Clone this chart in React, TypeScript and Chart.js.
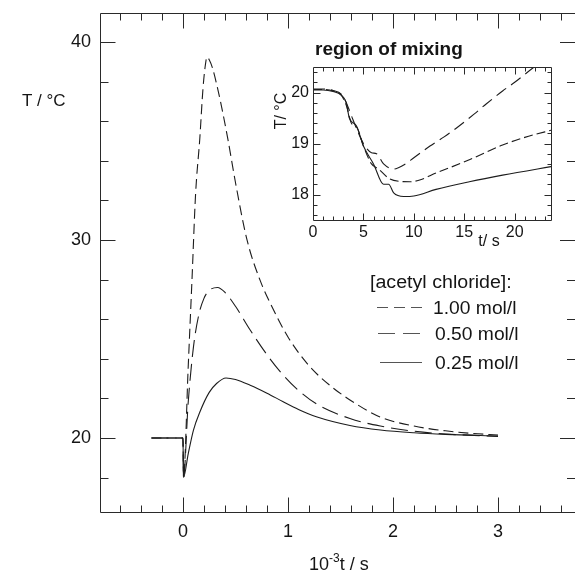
import React, { useEffect, useRef } from "react";
import { Chart, registerables } from "chart.js";
Chart.register(...registerables);

// ---- main chart data (x: 10^-3 t / s, y: T / °C)
const seriesLabels = ["1.00 mol/l", "0.50 mol/l", "0.25 mol/l"];
const legendTitle = "[acetyl chloride]:";

const c100X = [-0.3, 0, 0.005, 0.05, 0.086, 0.12, 0.16, 0.19, 0.21, 0.229, 0.25, 0.28, 0.333, 0.38, 0.429, 0.5, 0.61, 0.733, 0.85, 1.0, 1.2, 1.4, 1.59, 1.876, 2.2, 2.5, 2.75, 3.0];
const c100Y = [20, 20, 18, 23.6, 28.0, 32.3, 35.1, 37.6, 38.7, 39.24, 39.1, 38.7, 37.58, 36.4, 35.05, 32.9, 30.0, 27.98, 26.6, 25.1, 23.65, 22.65, 21.92, 21.06, 20.6, 20.36, 20.23, 20.15];

const c050X = [-0.3, 0, 0.005, 0.05, 0.1, 0.15, 0.2, 0.25, 0.33, 0.4, 0.5, 0.64, 0.8, 0.95, 1.1, 1.27, 1.59, 1.88, 2.2, 2.5, 3.0];
const c050Y = [20, 20, 18, 21.8, 24.6, 26.2, 27.05, 27.45, 27.6, 27.35, 26.65, 25.45, 24.2, 23.2, 22.4, 21.72, 20.98, 20.6, 20.34, 20.2, 20.08];

const c025X = [-0.3, 0, 0.005, 0.05, 0.1, 0.16, 0.25, 0.32, 0.41, 0.5, 0.64, 0.8, 0.95, 1.1, 1.27, 1.59, 1.88, 2.2, 2.5, 3.0];
const c025Y = [20, 20, 18, 19.2, 20.4, 21.3, 22.3, 22.75, 23.03, 22.95, 22.66, 22.26, 21.84, 21.44, 21.07, 20.63, 20.4, 20.26, 20.18, 20.1];

const mainXTickLabels = [0, 1, 2, 3];
const mainYTickLabels = [20, 30, 40];

// ---- inset data (x: t / s, y: T / °C)
const insetTitle = "region of mixing";
const i100T = [0, 1, 2, 2.8, 3.3, 3.8, 4.3, 5, 5.8, 6.3, 7, 8, 9, 10, 11.6, 13, 14.2, 16, 17.2, 18.8, 20, 21.8, 24];
const i100V = [20.07, 20.07, 20.04, 19.97, 19.8, 19.55, 19.3, 19.0, 18.82, 18.8, 18.6, 18.5, 18.58, 18.72, 18.95, 19.13, 19.3, 19.58, 19.78, 20.03, 20.2, 20.48, 20.8];

const i050T = [0, 1, 2, 2.8, 3.3, 3.8, 4.4, 5, 5.8, 6.5, 7.5, 8.5, 9.6, 10.5, 12.2, 15.5, 18.8, 21, 24];
const i050V = [20.06, 20.06, 20.03, 19.95, 19.75, 19.4, 19.3, 18.95, 18.6, 18.5, 18.32, 18.26, 18.25, 18.28, 18.42, 18.68, 18.97, 19.12, 19.28];

const i025T = [0, 1, 2, 2.8, 3.3, 3.6, 4.3, 5, 6, 7, 7.5, 8, 9, 10, 12.2, 15.5, 18.8, 24];
const i025V = [20.05, 20.05, 20.02, 19.95, 19.8, 19.5, 19.35, 18.95, 18.6, 18.2, 18.2, 18.03, 17.96, 17.97, 18.1, 18.25, 18.38, 18.56];

const insetXTickLabels = [0, 5, 10, 15, 20];
const insetYTickLabels = [18, 19, 20];

const FONT = '"Liberation Sans", Arial, Helvetica, sans-serif';
const INK = "#151515";
const LINE = "#1c1c1c";

const zip = (xs: number[], ys: number[]) => xs.map((x, i) => ({ x, y: ys[i] }));

const mainDashes = [[10, 5], [17, 7], []];
const insetDashes = [[12, 6], [9, 4], []];

function px(v: number) {
  return Math.round(v) + 0.5;
}

function stretchText(ctx: CanvasRenderingContext2D, text: string, x: number, y: number, sx: number) {
  ctx.save();
  ctx.translate(x, y);
  ctx.scale(sx, 1);
  ctx.fillText(text, 0, 0);
  ctx.restore();
}

const mainPlugin = {
  id: "mainDecor",
  afterDraw(chart: any) {
    const { ctx, chartArea: a } = chart;
    const xs = chart.scales.x;
    const ys = chart.scales.y;
    ctx.save();
    ctx.strokeStyle = "#2a2a2a";
    ctx.lineWidth = 1;
    ctx.beginPath();
    ctx.moveTo(px(a.left), px(a.top));
    ctx.lineTo(px(a.left), px(a.bottom));
    ctx.lineTo(a.right, px(a.bottom));
    ctx.moveTo(px(a.left), px(a.top));
    ctx.lineTo(a.right, px(a.top));
    for (let i = -4; i <= 18; i++) {
      const v = i * 0.2;
      const p = xs.getPixelForValue(v);
      if (p < a.left + 1 || p > a.right - 1) continue;
      const len = i % 5 === 0 ? 15 : 7;
      ctx.moveTo(px(p), px(a.bottom));
      ctx.lineTo(px(p), px(a.bottom) - len);
      ctx.moveTo(px(p), px(a.top));
      ctx.lineTo(px(p), px(a.top) + len);
    }
    for (let v = 16; v <= 41; v += 2) {
      const p = ys.getPixelForValue(v);
      if (p < a.top + 1 || p > a.bottom - 1) continue;
      const len = v % 10 === 0 ? 15 : 8;
      ctx.moveTo(px(a.left), px(p));
      ctx.lineTo(px(a.left) + len, px(p));
      ctx.moveTo(a.right, px(p));
      ctx.lineTo(a.right - len, px(p));
    }
    ctx.stroke();

    ctx.fillStyle = INK;
    ctx.font = `18px ${FONT}`;
    ctx.textAlign = "center";
    ctx.textBaseline = "middle";
    mainXTickLabels.forEach((v) => ctx.fillText(String(v), xs.getPixelForValue(v), 532));
    ctx.textAlign = "right";
    mainYTickLabels.forEach((v) => ctx.fillText(String(v), 91, ys.getPixelForValue(v)));

    ctx.textAlign = "left";
    ctx.textBaseline = "alphabetic";
    ctx.font = `17px ${FONT}`;
    ctx.fillText("T / °C", 22, 106);

    ctx.font = `18px ${FONT}`;
    let x0 = 309;
    ctx.fillText("10", x0, 570);
    x0 += ctx.measureText("10").width;
    ctx.font = `12px ${FONT}`;
    ctx.fillText("-3", x0, 562);
    x0 += ctx.measureText("-3").width;
    ctx.font = `18px ${FONT}`;
    ctx.fillText("t / s", x0, 570);

    // legend
    ctx.font = `18px ${FONT}`;
    ctx.textBaseline = "middle";
    stretchText(ctx, legendTitle, 370, 283, 1.09);
    const rows = [
      { y: 307, ty: 309, x1: 377, x2: 423, tx: 433 },
      { y: 333, ty: 335, x1: 378, x2: 421, tx: 435 },
      { y: 362, ty: 364, x1: 380, x2: 422, tx: 435 },
    ];
    rows.forEach((r, i) => {
      ctx.save();
      ctx.strokeStyle = "#555";
      ctx.setLineDash(i === 0 ? [11, 6] : i === 1 ? [17, 8] : []);
      ctx.beginPath();
      ctx.moveTo(r.x1, px(r.y));
      ctx.lineTo(r.x2, px(r.y));
      ctx.stroke();
      ctx.restore();
      stretchText(ctx, seriesLabels[i], r.tx, r.ty, 1.07);
    });
    ctx.restore();
  },
};

const insetPlugin = {
  id: "insetDecor",
  afterDraw(chart: any) {
    const { ctx, chartArea: a } = chart;
    const xs = chart.scales.x;
    const ys = chart.scales.y;
    ctx.save();
    ctx.strokeStyle = "#2a2a2a";
    ctx.lineWidth = 1;
    ctx.beginPath();
    ctx.rect(px(a.left), px(a.top), Math.round(a.right - a.left), Math.round(a.bottom - a.top));
    for (let v = 1; v <= 23; v++) {
      const p = xs.getPixelForValue(v);
      if (p > a.right - 1) continue;
      const len = v % 5 === 0 ? 7 : 4;
      ctx.moveTo(px(p), px(a.bottom));
      ctx.lineTo(px(p), px(a.bottom) - len);
      ctx.moveTo(px(p), px(a.top));
      ctx.lineTo(px(p), px(a.top) + len);
    }
    for (let i = 88; i <= 102; i++) {
      const v = i * 0.2;
      const p = ys.getPixelForValue(v);
      if (p < a.top + 1 || p > a.bottom - 1) continue;
      const len = i % 5 === 0 ? 7 : 4;
      ctx.moveTo(px(a.left), px(p));
      ctx.lineTo(px(a.left) + len, px(p));
      ctx.moveTo(px(a.right), px(p));
      ctx.lineTo(px(a.right) - len, px(p));
    }
    ctx.stroke();

    ctx.fillStyle = INK;
    ctx.font = `bold 19px ${FONT}`;
    ctx.textAlign = "left";
    ctx.textBaseline = "alphabetic";
    ctx.fillText(insetTitle, 55, 30);

    ctx.font = `16px ${FONT}`;
    ctx.textAlign = "center";
    ctx.textBaseline = "middle";
    insetXTickLabels.forEach((v) => ctx.fillText(String(v), xs.getPixelForValue(v), 208));
    ctx.textAlign = "right";
    insetYTickLabels.forEach((v) => ctx.fillText(String(v), 49, ys.getPixelForValue(v)));

    ctx.textAlign = "center";
    ctx.fillText("t/ s", 229, 217);
    ctx.save();
    ctx.translate(22, 86);
    ctx.rotate(-Math.PI / 2);
    ctx.fillText("T/ °C", 0, 0);
    ctx.restore();
    ctx.restore();
  },
};

function lineDs(label: string, data: any[], dash: number[]) {
  return {
    label,
    data,
    borderColor: LINE,
    borderWidth: 1.1,
    borderDash: dash,
    pointRadius: 0,
    fill: false,
    cubicInterpolationMode: "monotone" as const,
  };
}

export default function App() {
  const mainRef = useRef<HTMLCanvasElement>(null);
  const insetRef = useRef<HTMLCanvasElement>(null);

  useEffect(() => {
    document.body.style.margin = "0";
    const main = new Chart(mainRef.current!, {
      type: "line",
      data: {
        datasets: [
          lineDs(seriesLabels[0], zip(c100X, c100Y), mainDashes[0]),
          lineDs(seriesLabels[1], zip(c050X, c050Y), mainDashes[1]),
          lineDs(seriesLabels[2], zip(c025X, c025Y), mainDashes[2]),
        ],
      },
      options: {
        animation: false,
        responsive: false,
        devicePixelRatio: 1,
        layout: { padding: { left: 100, top: 13, right: 0, bottom: 64 } },
        scales: {
          x: { type: "linear", min: -0.79, max: 3.733, display: false },
          y: { type: "linear", min: 16.26, max: 41.46, display: false },
        },
        plugins: { legend: { display: false }, tooltip: { enabled: false } },
        events: [],
      },
      plugins: [mainPlugin],
    });
    const inset = new Chart(insetRef.current!, {
      type: "line",
      data: {
        datasets: [
          lineDs(seriesLabels[0], zip(i100T, i100V), insetDashes[0]),
          lineDs(seriesLabels[1], zip(i050T, i050V), insetDashes[1]),
          lineDs(seriesLabels[2], zip(i025T, i025V), insetDashes[2]),
        ],
      },
      options: {
        animation: false,
        responsive: false,
        devicePixelRatio: 1,
        layout: { padding: { left: 53, top: 42, right: 19, bottom: 35 } },
        scales: {
          x: { type: "linear", min: 0, max: 23.6, display: false },
          y: { type: "linear", min: 17.5, max: 20.5, display: false },
        },
        plugins: { legend: { display: false }, tooltip: { enabled: false } },
        events: [],
      },
      plugins: [insetPlugin],
    });
    return () => {
      main.destroy();
      inset.destroy();
    };
  }, []);

  return (
    <div style={{ position: "absolute", left: 0, top: 0, width: 575, height: 576, background: "#fff", overflow: "hidden" }}>
      <canvas ref={mainRef} width={575} height={576} style={{ position: "absolute", left: 0, top: 0, width: 575, height: 576 }} />
      <canvas ref={insetRef} width={310} height={230} style={{ position: "absolute", left: 260, top: 25, width: 310, height: 230 }} />
    </div>
  );
}
